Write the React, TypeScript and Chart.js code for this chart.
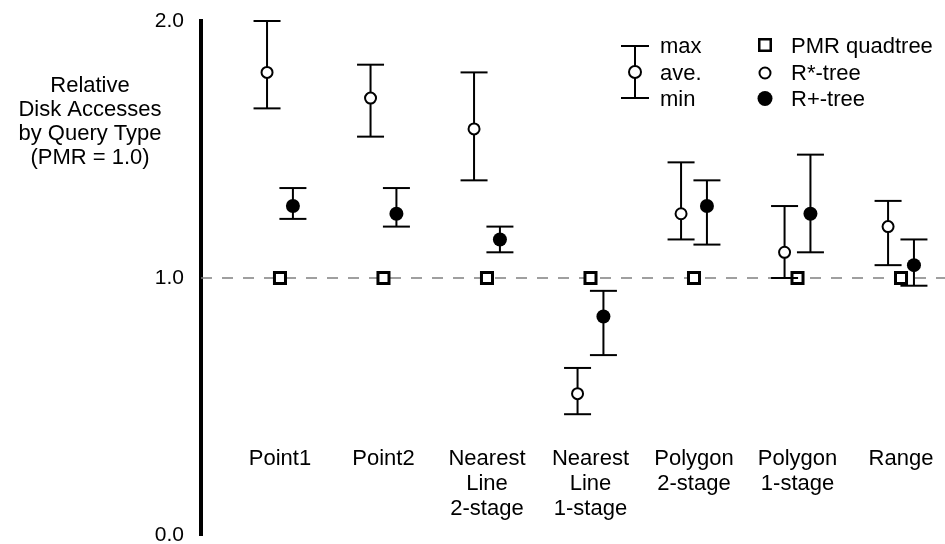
import React, { useEffect, useRef } from "react";
import { Chart, registerables } from "chart.js";

Chart.register(...registerables);

// ---- data ----
const categories: string[][] = [
  ["Point1"],
  ["Point2"],
  ["Nearest", "Line", "2-stage"],
  ["Nearest", "Line", "1-stage"],
  ["Polygon", "2-stage"],
  ["Polygon", "1-stage"],
  ["Range"],
];
const pmrValues = [1.0, 1.0, 1.0, 1.0, 1.0, 1.0, 1.0];
const rStarAve = [1.8, 1.7, 1.58, 0.55, 1.25, 1.1, 1.2];
const rStarMax = [2.0, 1.83, 1.8, 0.65, 1.45, 1.28, 1.3];
const rStarMin = [1.66, 1.55, 1.38, 0.47, 1.15, 1.0, 1.05];
const rPlusAve = [1.28, 1.25, 1.15, 0.85, 1.28, 1.25, 1.05];
const rPlusMax = [1.35, 1.35, 1.2, 0.95, 1.38, 1.48, 1.15];
const rPlusMin = [1.23, 1.2, 1.1, 0.7, 1.13, 1.1, 0.97];
const yTicks = [0, 1, 2];
const referenceValue = 1.0;
const yTitleLines = ["Relative", "Disk Accesses", "by Query Type", "(PMR = 1.0)"];
const legendRangeLabels = ["max", "ave.", "min"];
const legendSeriesLabels = ["PMR quadtree", "R*-tree", "R+-tree"];

// ---- layout / style constants ----
const FONT = '"Liberation Sans", Arial, Helvetica, sans-serif';
const X_MIN = 0.237;
const X_MAX = 7.425;
const OFF_STAR = -0.125;
const OFF_PLUS = 0.125;

const pts = (vals: number[], off: number) =>
  vals.map((v, i) => ({ x: i + 1 + off, y: v }));

const whiskers = (mins: number[], maxs: number[], off: number) => {
  const d: { x: number; y: number | null }[] = [];
  mins.forEach((m, i) => {
    d.push({ x: i + 1 + off, y: m }, { x: i + 1 + off, y: maxs[i] }, { x: i + 1 + off, y: null });
  });
  return d;
};

const caps = (mins: number[], maxs: number[], off: number) =>
  mins.flatMap((m, i) => [
    { x: i + 1 + off, y: m },
    { x: i + 1 + off, y: maxs[i] },
  ]);

const overlayPlugin = {
  id: "overlay",
  afterDraw(chart: any) {
    const ctx: CanvasRenderingContext2D = chart.ctx;
    const xs = chart.scales.x;
    ctx.save();
    ctx.fillStyle = "#000";
    ctx.font = `22px ${FONT}`;
    ctx.textBaseline = "alphabetic";

    // y axis title
    ctx.textAlign = "center";
    yTitleLines.forEach((t, i) => ctx.fillText(t, 90, 91.5 + i * 24.2));

    // category labels
    categories.forEach((lines, i) => {
      const px = xs.getPixelForValue(i + 1);
      lines.forEach((t, j) => ctx.fillText(t, px, 465 + j * 25));
    });

    // legend: range glyph
    ctx.strokeStyle = "#000";
    ctx.lineWidth = 2;
    const gx = 635;
    const gy = [46, 72, 98];
    ctx.beginPath();
    ctx.moveTo(gx, gy[0]);
    ctx.lineTo(gx, gy[2]);
    ctx.moveTo(gx - 14, gy[0]);
    ctx.lineTo(gx + 14, gy[0]);
    ctx.moveTo(gx - 14, gy[2]);
    ctx.lineTo(gx + 14, gy[2]);
    ctx.stroke();
    ctx.beginPath();
    ctx.arc(gx, gy[1], 6, 0, Math.PI * 2);
    ctx.fillStyle = "#fff";
    ctx.fill();
    ctx.stroke();

    ctx.fillStyle = "#000";
    ctx.textAlign = "left";
    const baselines = [53, 80, 106];
    legendRangeLabels.forEach((t, i) => ctx.fillText(t, 660, baselines[i]));
    legendSeriesLabels.forEach((t, i) => ctx.fillText(t, 791, baselines[i]));

    // legend: series markers
    const mx = 765;
    ctx.lineWidth = 2.5;
    ctx.strokeRect(mx - 5.75, gy[0] - 6.75, 11.5, 11.5);
    ctx.lineWidth = 2;
    ctx.beginPath();
    ctx.arc(mx, 73, 5.5, 0, Math.PI * 2);
    ctx.fillStyle = "#fff";
    ctx.fill();
    ctx.stroke();
    ctx.beginPath();
    ctx.arc(mx, 98.5, 7.5, 0, Math.PI * 2);
    ctx.fillStyle = "#000";
    ctx.fill();
    ctx.restore();
  },
};

export default function App() {
  const ref = useRef<HTMLCanvasElement | null>(null);

  useEffect(() => {
    if (!ref.current) return;
    const chart = new Chart(ref.current, {
      type: "scatter",
      data: {
        datasets: [
          {
            label: "reference",
            data: [
              { x: X_MIN, y: referenceValue },
              { x: X_MAX, y: referenceValue },
            ],
            showLine: true,
            borderColor: "#808080",
            borderWidth: 1.5,
            borderDash: [11, 10],
            pointRadius: 0,
            order: 10,
            clip: false,
          } as any,
          {
            label: "PMR quadtree",
            data: pts(pmrValues, 0),
            pointStyle: "rect",
            pointRadius: 7.8,
            pointBorderWidth: 3,
            pointBorderColor: "#000",
            pointBackgroundColor: "#fff",
            order: 5,
            clip: false,
          } as any,
          {
            label: "R* range",
            data: whiskers(rStarMin, rStarMax, OFF_STAR),
            showLine: true,
            spanGaps: false,
            borderColor: "#000",
            borderWidth: 2,
            pointRadius: 0,
            order: 3,
            clip: false,
          } as any,
          {
            label: "R+ range",
            data: whiskers(rPlusMin, rPlusMax, OFF_PLUS),
            showLine: true,
            spanGaps: false,
            borderColor: "#000",
            borderWidth: 2,
            pointRadius: 0,
            order: 3,
            clip: false,
          } as any,
          {
            label: "R* caps",
            data: caps(rStarMin, rStarMax, OFF_STAR),
            pointStyle: "line",
            pointRadius: 13.5,
            pointBorderWidth: 2,
            pointBorderColor: "#000",
            order: 2,
            clip: false,
          } as any,
          {
            label: "R+ caps",
            data: caps(rPlusMin, rPlusMax, OFF_PLUS),
            pointStyle: "line",
            pointRadius: 13.5,
            pointBorderWidth: 2,
            pointBorderColor: "#000",
            order: 2,
            clip: false,
          } as any,
          {
            label: "R*-tree",
            data: pts(rStarAve, OFF_STAR),
            pointStyle: "circle",
            pointRadius: 5.5,
            pointBorderWidth: 2,
            pointBorderColor: "#000",
            pointBackgroundColor: "#fff",
            order: 1,
            clip: false,
          } as any,
          {
            label: "R+-tree",
            data: pts(rPlusAve, OFF_PLUS),
            pointStyle: "circle",
            pointRadius: 7,
            pointBorderWidth: 0,
            pointBorderColor: "#000",
            pointBackgroundColor: "#000",
            order: 1,
            clip: false,
          } as any,
        ],
      },
      options: {
        animation: false,
        responsive: false,
        devicePixelRatio: 1,
        events: [],
        layout: { autoPadding: false, padding: { top: 21, bottom: 9, left: 0, right: 0 } },
        plugins: {
          legend: { display: false },
          tooltip: { enabled: false },
          title: { display: false },
        },
        scales: {
          x: {
            type: "linear",
            min: X_MIN,
            max: X_MAX,
            display: false,
          },
          y: {
            type: "linear",
            min: 0,
            max: 2,
            afterFit: (s: any) => {
              s.width = 201;
              s.paddingTop = 0;
              s.paddingBottom = 0;
            },
            afterBuildTicks: (s: any) => {
              s.ticks = yTicks.map((v) => ({ value: v }));
            },
            grid: { display: false, drawTicks: false },
            border: { display: true, color: "#000", width: 4 },
            ticks: {
              padding: 17,
              color: "#000",
              font: { family: FONT, size: 21 },
              callback: (v: any) => Number(v).toFixed(1),
            },
          },
        },
      } as any,
      plugins: [overlayPlugin],
    });
    return () => chart.destroy();
  }, []);

  return (
    <div style={{ position: "fixed", left: 0, top: 0, width: 945, height: 544, background: "#fff" }}>
      <canvas ref={ref} width={945} height={544} style={{ display: "block" }} />
    </div>
  );
}
